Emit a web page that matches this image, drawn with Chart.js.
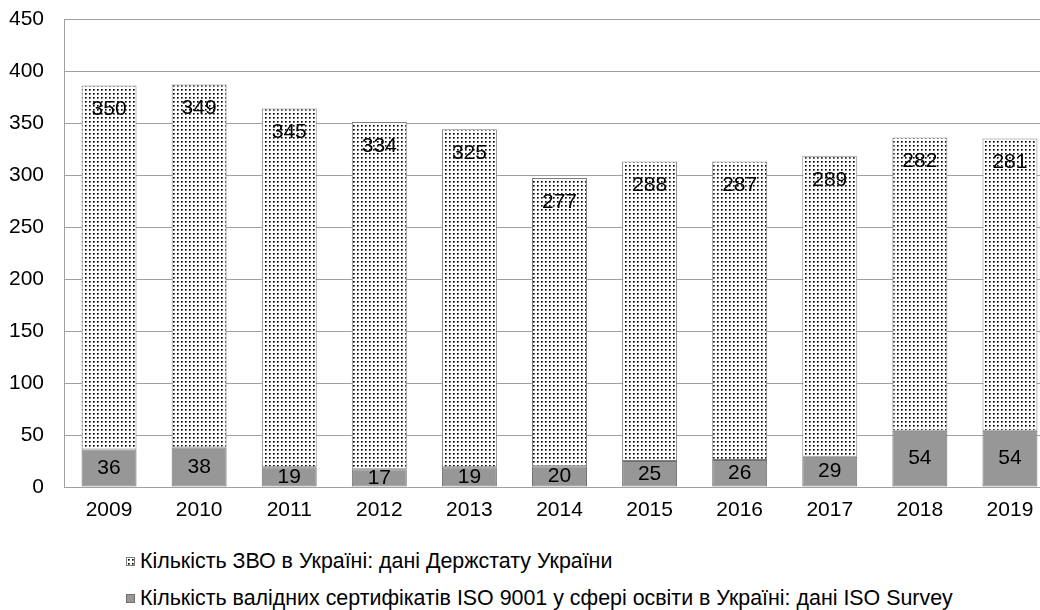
<!DOCTYPE html>
<html>
<head>
<meta charset="utf-8">
<script src="https://cdn.jsdelivr.net/npm/chart.js@4.4.1/dist/chart.umd.min.js"></script>
<style>
  html, body { margin: 0; padding: 0; background: #fff; overflow: hidden; width: 1040px; height: 610px; }
  #wrap { position: relative; width: 1060px; height: 610px; }
  #chart { position: absolute; left: 0; top: 0; }
  .leg { position: absolute; left: 126px; font-family: "Liberation Sans", Arial, sans-serif; font-size: 21.4px; color: #000; white-space: nowrap; line-height: 24px; }
  .sw { display: inline-block; width: 9px; height: 9px; margin-right: 5px; vertical-align: 2px; box-sizing: border-box; }
</style>
</head>
<body>
<div id="wrap">
  <canvas id="chart" width="1060" height="530"></canvas>
  <div class="leg" style="top:549px"><span class="sw" id="swZvo"></span>Кількість ЗВО в Україні: дані Держстату України</div>
  <div class="leg" style="top:586px"><span class="sw" id="swIso"></span>Кількість валідних сертифікатів ISO 9001 у сфері освіти в Україні: дані ISO Survey</div>
</div>
<script>
  // data
  var years = ["2009", "2010", "2011", "2012", "2013", "2014", "2015", "2016", "2017", "2018", "2019"];
  var isoCerts = [36, 38, 19, 17, 19, 20, 25, 26, 29, 54, 54];
  var zvoCount = [350, 349, 345, 334, 325, 277, 288, 287, 289, 282, 281];
  var yTicks = [0, 50, 100, 150, 200, 250, 300, 350, 400, 450];

  var FONT = "'Liberation Sans', Arial, sans-serif";
  var grayFill = "#979797";
  var grayEdge = "#707070";
  var dotEdge = "#7f7f7f";

  // dotted fill like the excel pattern
  var tile = document.createElement("canvas");
  tile.width = 4;
  tile.height = 4;
  var tctx = tile.getContext("2d");
  tctx.fillStyle = "#ffffff";
  tctx.fillRect(0, 0, 4, 4);
  tctx.fillStyle = "#000000";
  tctx.fillRect(1, 1, 1, 1);
  tctx.fillStyle = "#555555";
  tctx.fillRect(2, 1, 1, 1);
  tctx.fillRect(1, 2, 1, 1);
  tctx.fillStyle = "#999999";
  tctx.fillRect(2, 2, 1, 1);
  var ctx = document.getElementById("chart").getContext("2d");
  var dots = ctx.createPattern(tile, "repeat");

  var swZ = document.getElementById("swZvo");
  swZ.style.backgroundImage = "url(" + tile.toDataURL() + ")";
  swZ.style.border = "1px solid " + dotEdge;
  var swI = document.getElementById("swIso");
  swI.style.background = grayFill;
  swI.style.border = "1px solid " + grayEdge;

  // numbers inside the bars
  var valueLabels = {
    id: "valueLabels",
    afterDatasetsDraw: function (chart) {
      var c = chart.ctx;
      c.save();
      c.font = "21px " + FONT;
      c.fillStyle = "#000";
      c.textAlign = "center";
      c.textBaseline = "middle";
      chart.data.datasets.forEach(function (ds, di) {
        var meta = chart.getDatasetMeta(di);
        meta.data.forEach(function (bar, i) {
          var y = di === 0 ? (bar.y + bar.base) / 2 : bar.y + 24;
          c.fillText(String(ds.data[i]), bar.x, y);
        });
      });
      c.restore();
    }
  };

  new Chart(ctx, {
    type: "bar",
    data: {
      labels: years,
      datasets: [
        {
          label: "Кількість валідних сертифікатів ISO 9001 у сфері освіти в Україні: дані ISO Survey",
          data: isoCerts,
          backgroundColor: grayFill,
          borderColor: grayEdge,
          borderWidth: 1,
          borderSkipped: false
        },
        {
          label: "Кількість ЗВО в Україні: дані Держстату України",
          data: zvoCount,
          backgroundColor: dots,
          borderColor: dotEdge,
          borderWidth: 1,
          borderSkipped: false
        }
      ]
    },
    options: {
      responsive: false,
      devicePixelRatio: 1,
      animation: false,
      datasets: { bar: { categoryPercentage: 1, barPercentage: 0.61 } },
      layout: { padding: { top: 19, right: 5, left: 0, bottom: 0 } },
      plugins: { legend: { display: false }, tooltip: { enabled: false } },
      scales: {
        x: {
          stacked: true,
          grid: { display: false, drawTicks: false },
          border: { display: true, color: "#a0a0a0", width: 1 },
          ticks: { color: "#000", font: { family: FONT, size: 21 }, padding: 11, maxRotation: 0 },
          afterFit: function (s) { s.height = 43; }
        },
        y: {
          stacked: true,
          min: 0,
          max: 450,
          afterBuildTicks: function (s) { s.ticks = yTicks.map(function (v) { return { value: v }; }); },
          grid: { color: "#a0a0a0", lineWidth: 1, drawTicks: false },
          border: { display: true, color: "#a0a0a0", width: 1 },
          ticks: { color: "#000", font: { family: FONT, size: 21 }, padding: 20 },
          afterFit: function (s) { s.width = 64; s.paddingTop = 0; s.paddingBottom = 0; }
        }
      }
    },
    plugins: [valueLabels]
  });
</script>
</body>
</html>
